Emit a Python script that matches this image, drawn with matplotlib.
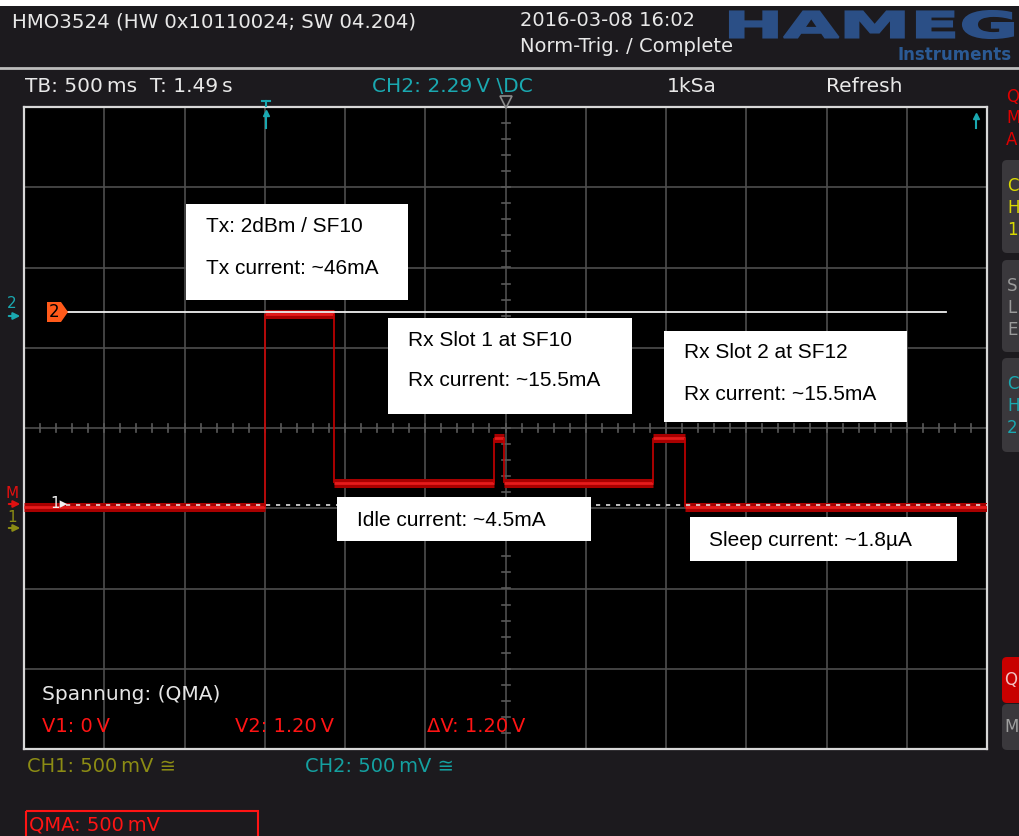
import numpy as np
import matplotlib.pyplot as plt
from matplotlib.patches import Rectangle, FancyBboxPatch, Polygon, PathPatch
from matplotlib.textpath import TextPath
from matplotlib.font_manager import FontProperties
from matplotlib.transforms import Affine2D

plt.rcParams['font.family'] = 'DejaVu Sans'

# scope settings
time_per_div = 0.5      # TB: 500 ms
volt_per_div = 0.5      # QMA: 500 mV
n_xdiv, n_ydiv = 12, 8
t_start = -1.5          # s, left screen edge relative to trigger
v_bottom = -1.52        # V, bottom screen edge

# current trace (QMA, voltage over shunt), step levels
t_edges = [-1.5, 0.0, 0.43, 1.43, 1.49, 2.42, 2.62, 4.5]
v_levels = [-0.01, 1.19, 0.14, 0.42, 0.14, 0.42, -0.01]

# cursors
v1_cursor = 0.0
v2_cursor = 1.20

# header / status texts
title_txt = "HMO3524 (HW 0x10110024; SW 04.204)"
date_txt = "2016-03-08 16:02"
trig_txt = "Norm-Trig. / Complete"
status_row = ["TB: 500\u2009ms  T: 1.49\u2009s", "CH2: 2.29\u2009V \\DC", "1kSa", "Refresh"]
ch_row = ["CH1: 500\u2009mV \u2245", "CH2: 500\u2009mV \u2245"]
meas_row = ["V1: 0\u2009V", "V2: 1.20\u2009V", "\u0394V: 1.20\u2009V"]

# annotation labels
note_tx = ["Tx: 2dBm / SF10", "Tx current: ~46mA"]
note_rx1 = ["Rx Slot 1 at SF10", "Rx current: ~15.5mA"]
note_rx2 = ["Rx Slot 2 at SF12", "Rx current: ~15.5mA"]
note_idle = ["Idle current: ~4.5mA"]
note_sleep = ["Sleep current: ~1.8\u00b5A"]

W, H = 1019, 836
X0, X1, Y0, Y1 = 24, 987, 107, 749      # screen area in pixels
div_px = (X1 - X0) / n_xdiv

teal = '#1aa8b0'
red = '#ff1414'
olive = '#8c8c14'
bg = '#1c1a1e'


def px2t(px):
    return t_start + (px - X0) / div_px * time_per_div


fig = plt.figure(figsize=(W / 100, H / 100), dpi=100)
fig.patch.set_facecolor(bg)

# --- scope screen ---
ax = fig.add_axes([X0 / W, (H - Y1) / H, (X1 - X0) / W, (Y1 - Y0) / H], zorder=1)
t_end = t_start + n_xdiv * time_per_div
v_top = v_bottom + n_ydiv * volt_per_div
ax.set_xlim(t_start, t_end)
ax.set_ylim(v_bottom, v_top)
ax.set_facecolor('black')
ax.set_xticks(np.linspace(t_start, t_end, n_xdiv + 1))
ax.set_yticks(np.linspace(v_bottom, v_top, n_ydiv + 1))
ax.grid(color='#4e4e4e', lw=1.2)
ax.tick_params(length=0, labelbottom=False, labelleft=False)
for s in ax.spines.values():
    s.set_color('#d8d8d8')
    s.set_linewidth(1.6)

# minor ticks on the centre lines
tc = (t_start + t_end) / 2
vc = (v_bottom + v_top) / 2
tk = 4 / div_px * time_per_div
for t in np.arange(t_start, t_end, time_per_div / 5):
    ax.plot([t, t], [vc - tk, vc + tk], color='#5a5a5a', lw=1.2)
for v in np.arange(v_bottom, v_top, volt_per_div / 5):
    ax.plot([tc - tk, tc + tk], [v, v], color='#5a5a5a', lw=1.2)

# trace
ax.hlines(v_levels, t_edges[:-1], t_edges[1:], color='#a80000', lw=6.5, zorder=3)
ax.hlines(v_levels, t_edges[:-1], t_edges[1:], color='#e41c1c', lw=2, zorder=3)
for i in range(1, len(v_levels)):
    ax.vlines(t_edges[i], v_levels[i - 1], v_levels[i], color='#c80000', lw=1.2, zorder=3)

# cursors
ax.plot([px2t(67), px2t(946)], [v2_cursor, v2_cursor], color='#f0f0f0', lw=1.3, zorder=4)
ax.plot([px2t(66), t_end], [v1_cursor, v1_cursor], color='#e0e0e0', lw=1.2,
        dashes=(2.5, 3.5), zorder=4)

# --- overlay in pixel coords ---
ov = fig.add_axes([0, 0, 1, 1], zorder=3)
ov.set_xlim(0, W)
ov.set_ylim(H, 0)
ov.axis('off')
ov.patch.set_alpha(0)

ov.add_patch(Rectangle((0, 0), W, 6, fc='white', lw=0))
ov.plot([0, W], [68, 68], color='#bcbcbc', lw=2)

ov.text(12, 22, title_txt, fontsize=14.2, color='#e8e8e8', va='center')
ov.text(520, 21, date_txt, fontsize=14, color='#e8e8e8', va='center')
ov.text(520, 47, trig_txt, fontsize=14, color='#e8e8e8', va='center')

# HAMEG logo
fp = FontProperties(family='DejaVu Sans', weight='bold')
tp = TextPath((0, 0), 'HAMEG', size=100, prop=fp)
bb = tp.get_extents()
tr = Affine2D().translate(-bb.x0, -bb.y0).scale((1013 - 730) / bb.width, -(38 - 11) / bb.height).translate(730, 38)
ov.add_patch(PathPatch(tr.transform_path(tp), fc='#2b4f86', ec='#2b4f86', lw=1.5))
ov.text(1012, 55, 'Instruments', ha='right', va='center', fontsize=12, weight='bold', color='#2b5a94')

# status row
ov.text(25, 87, status_row[0], fontsize=14.5, color='#e8e8e8', va='center')
ov.text(372, 87, status_row[1], fontsize=14.5, color=teal, va='center')
ov.text(667, 87, status_row[2], fontsize=14.5, color='#e8e8e8', va='center')
ov.text(826, 87, status_row[3], fontsize=14.5, color='#e8e8e8', va='center')

# right side menu
for y, c in zip([97, 118, 140], ['Q', 'M', 'A']):
    ov.text(1006, y, c, fontsize=12, color='#e00000', va='center')
panels = [(160, 253, ['C', 'H', '1'], '#d8d800'),
          (260, 352, ['S', 'L', 'E'], '#9a9a9a'),
          (358, 452, ['C', 'H', '2'], teal)]
for ya, yb, letters, col in panels:
    ov.add_patch(FancyBboxPatch((1002, ya), 40, yb - ya, boxstyle='round,pad=0,rounding_size=5',
                                fc='#3a383c', lw=0))
    for k, c in enumerate(letters):
        ov.text(1007, ya + 26 + k * 22, c, fontsize=12, color=col, va='center')
ov.add_patch(FancyBboxPatch((1002, 657), 40, 46, boxstyle='round,pad=0,rounding_size=5', fc='#c80000', lw=0))
ov.add_patch(FancyBboxPatch((1002, 704), 40, 46, boxstyle='round,pad=0,rounding_size=5', fc='#3a383c', lw=0))
ov.text(1004, 680, 'Q', fontsize=12, color='#f0c0c0', va='center')
ov.text(1004, 727, 'M', fontsize=12, color='#a0a0a0', va='center')

# trigger / position markers
ov.plot([262, 270], [101, 101], color=teal, lw=1.5)
ov.plot([266, 266], [101, 106], color=teal, lw=1.5)
ov.plot(266, 113, marker='^', ms=5, color=teal)
ov.plot([266, 266], [114, 128], color=teal, lw=1.5)
ov.plot(976, 116, marker='^', ms=5, color=teal)
ov.plot([976, 976], [117, 128], color=teal, lw=1.5)
ov.plot(506, 102, marker='v', ms=8, mfc='none', mec='#8a8a8a', mew=1.2)

# left channel markers
ov.text(12, 303, '2', fontsize=11, color=teal, ha='center', va='center')
ov.annotate('', xy=(23, 316), xytext=(6, 316), arrowprops=dict(arrowstyle='-|>', color=teal, lw=1.5))
ov.text(12, 493, 'M', fontsize=11, color='#e01010', ha='center', va='center')
ov.annotate('', xy=(23, 504), xytext=(6, 504), arrowprops=dict(arrowstyle='-|>', color='#e01010', lw=1.5))
ov.text(12, 517, '1', fontsize=11, color=olive, ha='center', va='center')
ov.annotate('', xy=(23, 528), xytext=(6, 528), arrowprops=dict(arrowstyle='-|>', color=olive, lw=1.5))

ov.add_patch(Polygon([(47, 302), (61, 302), (68, 312), (61, 322), (47, 322)], fc='#ff5a1a', lw=0))
ov.text(54, 312, '2', fontsize=12, color='black', ha='center', va='center')
ov.text(50, 504, '1\u25b8', fontsize=11, color='#f0f0f0', va='center')

# annotation boxes
ann_font = dict(family='Liberation Sans', fontsize=15, color='black', va='center')
boxes = [((186, 204, 408, 300), note_tx, 206, [227, 269]),
         ((388, 318, 632, 414), note_rx1, 408, [340, 381]),
         ((664, 331, 907, 422), note_rx2, 684, [353, 394]),
         ((337, 497, 591, 541), note_idle, 357, [520]),
         ((690, 517, 957, 561), note_sleep, 709, [541])]
for (xa, ya, xb, yb), lines, tx, tys in boxes:
    ov.add_patch(Rectangle((xa, ya), xb - xa, yb - ya, fc='white', lw=0))
    for s, ty in zip(lines, tys):
        ov.text(tx, ty, s, **ann_font)

# bottom texts
ov.text(42, 695, 'Spannung: (QMA)', fontsize=14.5, color='#e6e6e6', va='center')
for x, s in zip([42, 235, 427], meas_row):
    ov.text(x, 727, s, fontsize=14, color=red, va='center')
ov.text(27, 767, ch_row[0], fontsize=14, color=olive, va='center')
ov.text(305, 767, ch_row[1], fontsize=14, color='#14a0a0', va='center')
ov.add_patch(Rectangle((26, 811), 232, 40, fc='none', ec=red, lw=1.5))
ov.text(29, 825, 'QMA: 500\u2009mV', fontsize=14, color=red, va='center')

fig.savefig('out.png', dpi=100, facecolor=fig.get_facecolor())
